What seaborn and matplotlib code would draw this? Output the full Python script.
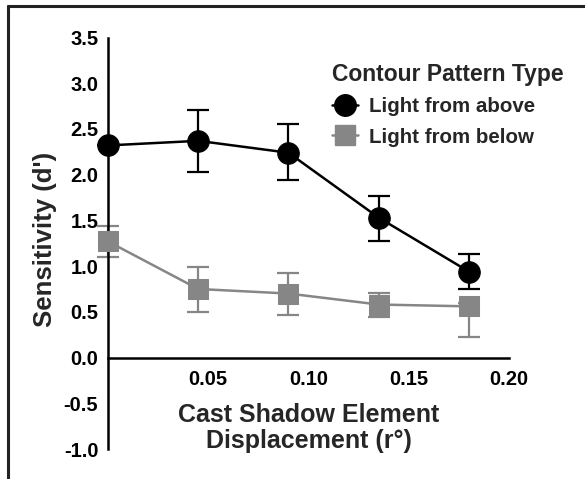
import matplotlib
matplotlib.use("Agg")
import matplotlib.pyplot as plt
from matplotlib.lines import Line2D
import seaborn as sns
import pandas as pd
import numpy as np

# Data
displacement = [0.0, 0.045, 0.09, 0.135, 0.18]
above_mean = [2.32, 2.37, 2.24, 1.53, 0.94]
above_lo = [2.32, 2.03, 1.94, 1.28, 0.75]
above_hi = [2.32, 2.71, 2.55, 1.77, 1.13]
below_mean = [1.27, 0.75, 0.70, 0.58, 0.56]
below_lo = [1.10, 0.50, 0.47, 0.44, 0.22]
below_hi = [1.44, 0.99, 0.93, 0.71, 0.60]
series_names = ["Light from above", "Light from below"]
legend_title = "Contour Pattern Type"
xticks = [0.05, 0.10, 0.15, 0.20]
xtick_labels = ["0.05", "0.10", "0.15", "0.20"]
yticks = [-1.0, -0.5, 0.0, 0.5, 1.0, 1.5, 2.0, 2.5, 3.0, 3.5]
ytick_labels = ["-1.0", "-0.5", "0.0", "0.5", "1.0", "1.5", "2.0", "2.5", "3.0", "3.5"]

sns.set_style("white")
plt.rcParams["font.family"] = ["Liberation Sans", "DejaVu Sans"]
plt.rcParams["font.weight"] = "bold"

df = pd.DataFrame({
    "x": displacement * 2,
    "y": above_mean + below_mean,
    "series": [series_names[0]] * 5 + [series_names[1]] * 5,
})

fig = plt.figure(figsize=(5.85, 4.79), dpi=100)
ax = fig.add_axes([0.1846, 0.0626, 0.6855, 0.8591])

black = "#000000"
gray = "#868686"

# gray series (drawn first)
sub = df[df.series == series_names[1]]
ax.errorbar(sub.x, sub.y,
            yerr=[np.array(below_mean) - np.array(below_lo), np.array(below_hi) - np.array(below_mean)],
            fmt="none", ecolor=gray, elinewidth=1.6, capsize=8, capthick=1.6, clip_on=False, zorder=2)
sns.lineplot(data=sub, x="x", y="y", color=gray, marker="s", markersize=15,
             markeredgecolor=gray, linewidth=1.8, ax=ax, clip_on=False, zorder=3, legend=False)

sub = df[df.series == series_names[0]]
ax.errorbar(sub.x, sub.y,
            yerr=[np.array(above_mean) - np.array(above_lo), np.array(above_hi) - np.array(above_mean)],
            fmt="none", ecolor=black, elinewidth=1.6, capsize=8, capthick=1.6, clip_on=False, zorder=4)
sns.lineplot(data=sub, x="x", y="y", color=black, marker="o", markersize=15.5,
             markeredgecolor=black, linewidth=1.8, ax=ax, clip_on=False, zorder=5, legend=False)

for s in ["top", "right"]:
    ax.spines[s].set_visible(False)
ax.spines["bottom"].set_position(("data", 0))
for s in ["left", "bottom"]:
    ax.spines[s].set_linewidth(1.8)
    ax.spines[s].set_color("black")

ax.set_xlim(0, 0.2)
ax.set_ylim(-1.0, 3.5)
ax.set_xticks(xticks)
ax.set_xticklabels(xtick_labels, fontsize=14.5, fontweight="bold")
ax.set_yticks(yticks)
ax.set_yticklabels(ytick_labels, fontsize=14.5, fontweight="bold")
ax.tick_params(axis="both", direction="out", length=6, width=1.8, colors="black", labelsize=14.5)
ax.tick_params(axis="y", pad=1)
ax.tick_params(axis="x", pad=3)

ax.set_xlabel("Cast Shadow Element\nDisplacement (r°)", fontsize=18, fontweight="bold",
              linespacing=1.1)
ax.xaxis.set_label_coords(0.5, 0.112)
ax.set_ylabel("Sensitivity (d')", fontsize=18.5, fontweight="bold")
ax.yaxis.set_label_coords(-0.126, 0.51)

handles = [
    Line2D([], [], color=black, marker="o", markersize=15.5, linewidth=1.8),
    Line2D([], [], color=gray, marker="s", markersize=15, linewidth=1.8),
]
leg = ax.legend(handles, series_names, title=legend_title, frameon=False,
                loc="upper left", bbox_to_anchor=(0.523, 0.973),
                prop={"size": 14.8, "weight": "bold"},
                title_fontproperties={"size": 16.5, "weight": "bold"},
                handlelength=1.25, handletextpad=0.55, labelspacing=0.55, borderpad=0.2)
leg._legend_box.align = "left"

# frame lines (left and top)
fig.add_artist(Line2D([8 / 585, 8 / 585], [0, 1 - 6 / 479], color="#222222", linewidth=2.2,
                      transform=fig.transFigure))
fig.add_artist(Line2D([8 / 585, 1], [1 - 6 / 479, 1 - 6 / 479], color="#222222", linewidth=2.2,
                      transform=fig.transFigure))

fig.savefig("out.png", dpi=100)
